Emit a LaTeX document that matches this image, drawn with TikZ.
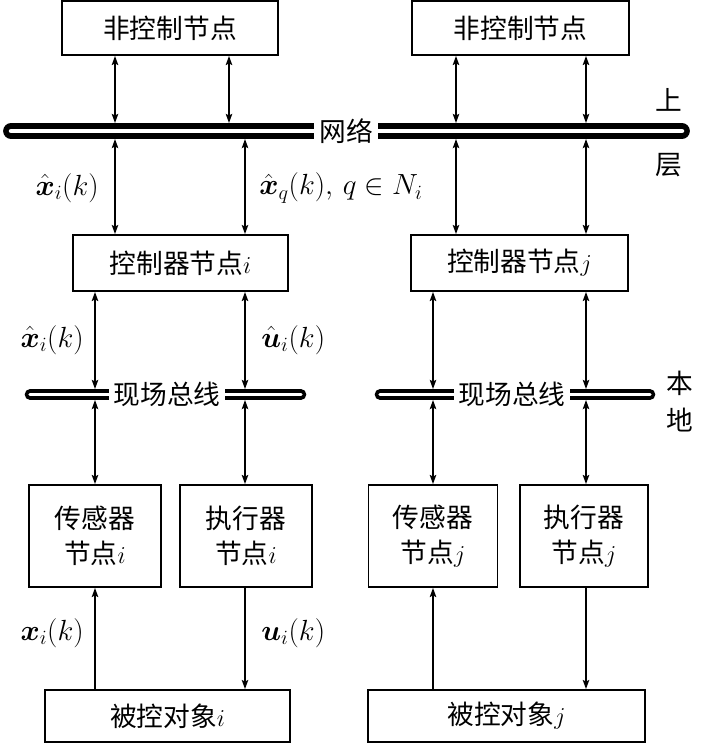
\documentclass[tikz,border=0pt]{standalone}
\usepackage{amsmath,amssymb}
\usepackage{fontspec}
\newfontfamily\cjk{Noto Sans CJK SC}
\usepackage{tikz}
\usetikzlibrary{arrows.meta,positioning,calc}

\begin{document}
\begin{tikzpicture}[
    x=0.025cm, y=-0.025cm,
    box/.style={draw, line width=1.3pt, inner sep=0pt, align=center, font=\fontsize{19}{25}\selectfont\cjk},
    arrow/.style={-{Stealth[length=6.5pt, width=4.6pt, inset=1.2pt]}, line width=1pt},
    biarrow/.style={{Stealth[length=6.5pt, width=4.6pt, inset=1.2pt]}-{Stealth[length=6.5pt, width=4.6pt, inset=1.2pt]}, line width=1pt},
    net/.style={line width=4pt, double=white, double distance=3.2pt, line cap=round},
    bus/.style={line width=2.6pt, double=white, double distance=2.4pt, line cap=round},
    gap/.style={fill=white, inner xsep=3.5pt, inner ysep=1pt, font=\fontsize{19}{22}\selectfont\cjk},
    lbl/.style={inner sep=0pt, font=\fontsize{21}{24}\selectfont}
]
    \useasboundingbox (0,0) rectangle (700,745);

    % Non-control nodes
    \node[box, minimum width=5.4cm, minimum height=1.35cm] (ncl) at (170,28) {非控制节点};
    \node[box, minimum width=5.425cm, minimum height=1.35cm] (ncr) at (520.5,28) {非控制节点};

    % Controller nodes
    \node[box, minimum width=5.375cm, minimum height=1.4cm] (ctrli) at (180.5,263) {控制器节点$i$};
    \node[box, minimum width=5.425cm, minimum height=1.4cm] (ctrlj) at (519.5,263) {控制器节点$j$};

    % Sensor and actuator nodes
    \node[box, minimum width=3.3cm, minimum height=2.55cm] (sensi) at (95,536) {传感器\\节点$i$};
    \node[box, minimum width=3.3cm, minimum height=2.55cm] (acti) at (246,536) {执行器\\节点$i$};
    \node[box, minimum width=3.225cm, minimum height=2.55cm] (sensj) at (433,536) {传感器\\节点$j$};
    \node[box, minimum width=3.2cm, minimum height=2.55cm] (actj) at (584,536) {执行器\\节点$j$};

    % Plants
    \node[box, minimum width=6.125cm, minimum height=1.3cm] (planti) at (167.5,716) {被控对象$i$};
    \node[box, minimum width=6.925cm, minimum height=1.3cm] (plantj) at (506.5,716) {被控对象$j$};

    % Network and field buses
    \draw[net] (11,131) -- (682,131);
    \node[gap] (netlbl) at (346,131) {网络};
    \draw[bus] (30,394.5) -- (301,394.5);
    \node[gap] (busi) at (167,394.5) {现场总线};
    \draw[bus] (380,394.5) -- (650,394.5);
    \node[gap] (busj) at (512,394.5) {现场总线};

    % Bus edges and arrow columns
    \coordinate (netN) at (0,123);
    \coordinate (netS) at (0,139);
    \coordinate (busN) at (0,389);
    \coordinate (busS) at (0,400);
    \coordinate (colA) at (115,0);
    \coordinate (colB) at (229,0);
    \coordinate (colC) at (245,0);
    \coordinate (colD) at (95,0);
    \coordinate (colE) at (456,0);
    \coordinate (colF) at (586,0);
    \coordinate (colG) at (433,0);

    % Upper layer links
    \draw[biarrow] (ncl.south -| colA) -- (netN -| colA);
    \draw[biarrow] (ncl.south -| colB) -- (netN -| colB);
    \draw[biarrow] (ncr.south -| colE) -- (netN -| colE);
    \draw[biarrow] (ncr.south -| colF) -- (netN -| colF);
    \draw[biarrow] (netS -| colA) -- (ctrli.north -| colA);
    \draw[biarrow] (netS -| colC) -- (ctrli.north -| colC);
    \draw[biarrow] (netS -| colE) -- (ctrlj.north -| colE);
    \draw[biarrow] (netS -| colF) -- (ctrlj.north -| colF);

    % Local links
    \draw[biarrow] (ctrli.south -| colD) -- (busN -| colD);
    \draw[biarrow] (ctrli.south -| colC) -- (busN -| colC);
    \draw[biarrow] (ctrlj.south -| colG) -- (busN -| colG);
    \draw[biarrow] (ctrlj.south -| colF) -- (busN -| colF);
    \draw[biarrow] (busS -| colD) -- (sensi.north -| colD);
    \draw[biarrow] (busS -| colC) -- (acti.north -| colC);
    \draw[biarrow] (busS -| colG) -- (sensj.north -| colG);
    \draw[biarrow] (busS -| colF) -- (actj.north -| colF);

    % Plant links
    \draw[arrow] (planti.north -| colD) -- (sensi.south -| colD);
    \draw[arrow] (acti.south -| colC) -- (planti.north -| colC);
    \draw[arrow] (plantj.north -| colG) -- (sensj.south -| colG);
    \draw[arrow] (actj.south -| colF) -- (plantj.north -| colF);

    % Signal labels
    \node[lbl, anchor=east] (xhat1) at (99,188) {$\hat{\boldsymbol{x}}_i(k)$};
    \node[lbl, anchor=west] (xhatq) at (259,188) {$\hat{\boldsymbol{x}}_q(k),\, q\in N_i$};
    \node[lbl, anchor=east] (xhat2) at (84,340) {$\hat{\boldsymbol{x}}_i(k)$};
    \node[lbl, anchor=west] (uhat2) at (261,340) {$\hat{\boldsymbol{u}}_i(k)$};
    \node[lbl, anchor=east] (xsig) at (84,633) {$\boldsymbol{x}_i(k)$};
    \node[lbl, anchor=west] (usig) at (261,633) {$\boldsymbol{u}_i(k)$};

    % Layer labels
    \node[lbl, font=\fontsize{19}{22}\selectfont\cjk] (upper1) at (669,100) {上};
    \node[lbl, font=\fontsize{19}{22}\selectfont\cjk] (upper2) at (669,165) {层};
    \node[lbl, font=\fontsize{19}{22}\selectfont\cjk] (local1) at (680,383) {本};
    \node[lbl, font=\fontsize{19}{22}\selectfont\cjk] (local2) at (680,420) {地};
\end{tikzpicture}
\end{document}
